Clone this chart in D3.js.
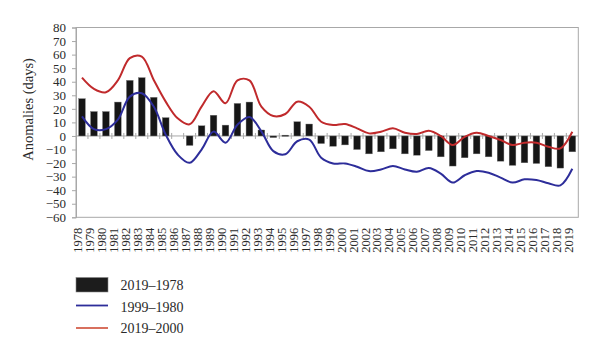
<!DOCTYPE html>
<html>
<head>
<meta charset="utf-8">
<script src="https://cdn.jsdelivr.net/npm/d3@7"></script>
<style>
  html, body { margin: 0; padding: 0; background: #fff; }
  svg { display: block; }
  text { font-family: "Liberation Serif", "DejaVu Serif", serif; fill: #2a2a2a; }
</style>
</head>
<body>
<svg id="chart" width="600" height="353"></svg>
<script>
const years = d3.range(1978, 2020).map(String);

const bars1978_2019 = [27.5, 18, 18, 25, 41, 43, 28.5, 13.5, 0, -7,
  7.5, 15.3, 8, 24, 25, 4.4, -1.2, 0.6, 10.5, 8.8,
  -5.6, -7.6, -6.6, -10, -13.2, -11.7, -9.5, -13.2, -14.2, -10.8,
  -15.4, -22.2, -16.1, -13.2, -15.4, -18.6, -21.7, -19.8, -20.3, -22.7,
  -23.7, -11.7];

const line1999_1980 = [14.4, 5, 5, 12, 29, 31.5, 21.7, 1, -13.7, -19.8,
  -10, 3.2, -5, 8.3, 14, 3.4, -11.2, -13.5, -3.9, -2.7,
  -16.1, -20.3, -20.3, -22.7, -25.9, -24.7, -22.2, -24.7, -26.4, -23.7,
  -27.8, -34.4, -29, -25.9, -27.1, -30.7, -34.4, -32, -32.5, -34.9,
  -36.4, -24.2];

const line2019_2000 = [43, 34.7, 32.2, 41, 57.4, 58.6, 41.3, 25.3, 13, 8.6,
  21.6, 33, 24.1, 41, 41, 21.6, 14.7, 16.2, 25.3, 21.6,
  10.5, 8.1, 8.8, 5.6, 1.9, 3.1, 5.6, 2.4, 1.4, 3.8,
  0, -6.7, -0.6, 2.4, 0, -3, -6.7, -5, -5, -8,
  -9.2, 3.1];

const yTicks = [80, 70, 60, 50, 40, 30, 20, 10, 0, -10, -20, -30, -40, -50, -60];
const legendLabels = ["2019\u20131978", "1999\u20131980", "2019\u20132000"];
const yTitle = "Anomalies (days)";

const colors = { bar: "#161616", blue: "#2d2d9a", red: "#c02a2c", axis: "#a8a8a8" };

const svg = d3.select("#chart");
const pL = 76, pR = 578.3, pT = 27.5, pB = 217.3;

const x = d3.scaleBand().domain(years).range([pL, pR]).paddingInner(0.44).paddingOuter(0.22);
const y = d3.scaleLinear().domain([-60, 80]).range([pB, pT]);
const cx = d => x(d) + x.bandwidth() / 2;

// frame
svg.append("rect")
  .attr("x", pL).attr("y", pT)
  .attr("width", pR - pL).attr("height", pB - pT)
  .attr("fill", "none").attr("stroke", colors.axis).attr("stroke-width", 1);

// y axis
const yAxis = svg.append("g")
  .attr("transform", `translate(${pL},0)`)
  .call(d3.axisLeft(y).tickValues(yTicks).tickSize(4).tickPadding(6)
    .tickFormat(d => d < 0 ? "\u2212" + Math.abs(d) : String(d)));
yAxis.select(".domain").attr("stroke", colors.axis);
yAxis.selectAll(".tick line").attr("stroke", colors.axis);
yAxis.selectAll(".tick text")
  .attr("font-size", 13).attr("fill", "#2a2a2a")
  .style("font-family", '"Liberation Serif", "DejaVu Serif", serif');

// y title
svg.append("text")
  .attr("transform", `translate(33,${(pT + pB) / 2 - 13}) rotate(-90)`)
  .attr("text-anchor", "middle")
  .attr("font-size", 14.5)
  .text(yTitle);

// zero line with ticks at band boundaries
const y0 = y(0);
svg.append("line")
  .attr("x1", pL).attr("x2", pR).attr("y1", y0).attr("y2", y0)
  .attr("stroke", colors.axis).attr("stroke-width", 1);
svg.append("g").selectAll("line")
  .data(years.slice(1))
  .join("line")
  .attr("x1", d => x(d) - x.step() * x.paddingInner() / 2)
  .attr("x2", d => x(d) - x.step() * x.paddingInner() / 2)
  .attr("y1", y0 - 3).attr("y2", y0 + 3)
  .attr("stroke", colors.axis).attr("stroke-width", 1);

// bars
svg.append("g").selectAll("rect")
  .data(years.map((yr, i) => ({ yr, v: bars1978_2019[i] })).filter(d => d.v !== 0))
  .join("rect")
  .attr("x", d => x(d.yr))
  .attr("width", x.bandwidth())
  .attr("y", d => Math.min(y(d.v), y0))
  .attr("height", d => Math.max(Math.abs(y(d.v) - y0), 1.2))
  .attr("fill", colors.bar)
  .attr("stroke", "#777").attr("stroke-width", 0.4);

// lines
const lineGen = d3.line()
  .x(d => cx(d.yr))
  .y(d => y(d.v))
  .curve(d3.curveCatmullRom.alpha(0.5));

svg.append("path")
  .datum(years.map((yr, i) => ({ yr, v: line1999_1980[i] })))
  .attr("d", lineGen)
  .attr("fill", "none").attr("stroke", colors.blue).attr("stroke-width", 2);

svg.append("path")
  .datum(years.map((yr, i) => ({ yr, v: line2019_2000[i] })))
  .attr("d", lineGen)
  .attr("fill", "none").attr("stroke", colors.red).attr("stroke-width", 2);

// x labels
svg.append("g").selectAll("text")
  .data(years)
  .join("text")
  .attr("transform", d => `translate(${cx(d) + 0.5},${pB + 10.5}) rotate(-90)`)
  .attr("text-anchor", "end")
  .attr("font-size", 12.5)
  .text(d => d);

// legend
const lg = svg.append("g");
lg.append("rect")
  .attr("x", 76).attr("y", 277.5).attr("width", 32).attr("height", 14.5)
  .attr("fill", "#1c1c1c").attr("stroke", "#888").attr("stroke-width", 0.6);
lg.append("line")
  .attr("x1", 76).attr("x2", 108).attr("y1", 305.5).attr("y2", 305.5)
  .attr("stroke", colors.blue).attr("stroke-width", 1.8);
lg.append("line")
  .attr("x1", 76).attr("x2", 108).attr("y1", 328).attr("y2", 328)
  .attr("stroke", "#d4604c").attr("stroke-width", 1.8);
const baselines = [289.5, 311.5, 333];
legendLabels.forEach((t, i) => {
  lg.append("text")
    .attr("x", 120.5).attr("y", baselines[i])
    .attr("font-size", 14)
    .text(t);
});
</script>
</body>
</html>
